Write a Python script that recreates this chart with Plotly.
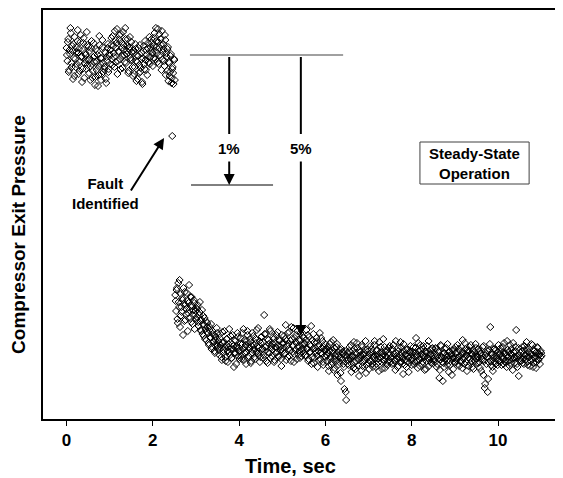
import plotly.graph_objects as go

# ---------------- data ----------------
# sampling of the pressure trace (two interleaved sample sets, 0.01 s apart)
sample_step = 0.02          # s
pre_fault_start = 0.0       # s
post_fault_start = 2.52     # s
interleave_offset = 0.01    # s

# compressor exit pressure (arbitrary units) before the fault, t = 0 .. 2.5 s
pre_fault_p = [
    371, 358, 380, 349, 365, 386, 352, 368, 375, 343, 360, 372, 355, 389, 366, 348, 377, 362, 337, 369, 381, 356, 364, 350, 374, 359,
    346, 368, 353, 378, 341, 362, 357, 334, 370, 349, 364, 344, 383, 355, 339, 361, 372, 347, 352, 366, 336, 358, 375, 350, 363,
    369, 381, 354, 373, 362, 388, 357, 376, 345, 367, 379, 360, 385, 371, 351, 374, 364, 391, 356, 368, 380, 348, 372, 361, 377,
    359, 343, 366, 352, 370, 338, 357, 363, 346, 374, 351, 360, 335, 368, 355, 378, 349, 364, 371, 357, 382, 362, 369, 376, 353,
    373, 386, 360, 378, 366, 390, 355, 371, 380, 349, 367, 375, 358, 384, 344, 362, 370, 338, 356, 347, 365, 341, 352, 335, 359,
]
pre_fault_p_b = [
    364, 377, 347, 369, 391, 356, 373, 340, 361, 382, 352, 367, 378, 345, 370, 357, 384, 363, 350, 376, 341, 366, 359, 387, 354, 372,
    360, 339, 371, 355, 348, 376, 363, 342, 357, 368, 333, 352, 374, 361, 345, 379, 356, 350, 367, 340, 362, 371, 347, 365, 355,
    374, 360, 383, 366, 352, 379, 371, 390, 358, 368, 384, 350, 376, 363, 387, 369, 357, 380, 365, 373, 346, 370, 382, 359, 367,
    352, 368, 345, 375, 358, 364, 340, 371, 354, 347, 366, 337, 361, 373, 350, 359, 369, 344, 376, 362, 355, 372, 380, 366, 361,
    381, 368, 391, 372, 357, 377, 385, 364, 374, 388, 360, 370, 353, 379, 366, 348, 372, 357, 343, 363, 336, 350, 346, 360, 339,
]

# the single sample at which the fault is identified
fault_t = [2.45]
fault_p = [283]

# compressor exit pressure after the fault, t = 2.52 .. 11.0 s
post_fault_p = [
    124, 108, 131, 96, 117, 139, 103, 112, 121, 84, 115, 127, 99, 110, 118, 106, 134, 101, 113, 122, 95, 109, 116, 104, 111,
    102, 114, 93, 107, 98, 88, 109, 95, 83, 101, 90, 79, 96, 86, 74, 92, 81, 70, 88, 77, 84, 66, 79, 91, 73,
    78, 64, 85, 71, 59, 76, 69, 88, 62, 74, 80, 57, 72, 67, 83, 61, 75, 70, 52, 79, 66, 73, 86, 63, 71,
    68, 81, 60, 75, 90, 66, 72, 55, 78, 84, 63, 70, 77, 58, 86, 69, 74, 62, 80, 67, 73, 91, 64, 57, 76,
    82, 70, 61, 104, 68, 85, 73, 56, 79, 66, 88, 71, 63, 75, 80, 59, 72, 84, 67, 74, 62, 78, 69, 53, 76,
    71, 83, 66, 94, 78, 62, 75, 87, 69, 58, 80, 73, 91, 65, 77, 84, 60, 72, 79, 68, 86, 63, 74, 70, 81,
    76, 64, 89, 70, 58, 82, 67, 73, 55, 79, 85, 61, 71, 66, 77, 52, 68, 74, 60, 81, 65, 57, 72, 63, 69,
    70, 58, 66, 48, 75, 62, 54, 68, 79, 60, 51, 65, 72, 44, 63, 57, 69, 38, 61, 67, 55, 30, 64, 19, 59,
    66, 54, 72, 60, 47, 68, 63, 77, 57, 50, 65, 71, 59, 43, 67, 62, 74, 53, 64, 58, 69, 46, 61, 70, 56,
    65, 73, 58, 67, 52, 61, 78, 64, 55, 69, 60, 48, 66, 72, 57, 63, 80, 59, 51, 68, 62, 54, 71, 64, 57,
    69, 55, 63, 74, 58, 49, 66, 60, 71, 53, 64, 77, 57, 62, 45, 68, 59, 65, 52, 70, 61, 56, 67, 63, 54,
    60, 72, 57, 66, 81, 63, 51, 68, 59, 74, 62, 55, 70, 64, 49, 67, 58, 73, 61, 53, 69, 65, 56, 71, 60,
    64, 57, 70, 52, 63, 67, 41, 59, 73, 62, 38, 56, 66, 60, 71, 54, 63, 47, 68, 58, 65, 61, 50, 69, 57,
    66, 59, 74, 62, 53, 68, 57, 64, 79, 60, 55, 70, 63, 48, 67, 61, 72, 56, 65, 52, 69, 62, 58, 75, 60,
    63, 56, 68, 51, 65, 60, 72, 44, 58, 35, 66, 62, 27, 57, 69, 92, 54, 64, 48, 61, 70, 55, 63, 59, 67,
    58, 65, 71, 54, 63, 60, 76, 57, 66, 52, 69, 62, 59, 74, 56, 64, 49, 67, 61, 72, 89, 55, 63, 43, 60,
    66, 58, 72, 61, 55, 69, 64, 77, 57, 62, 70, 53, 65, 60, 74, 56, 68, 63, 51, 67, 71, 59, 64, 62, 66,
]
post_fault_p_b = [
    118, 129, 100, 136, 112, 92, 125, 107, 119, 131, 98, 114, 105, 126, 88, 116, 109, 122, 97, 113, 104, 119, 90, 108, 100,
    110, 97, 104, 117, 89, 99, 85, 103, 94, 80, 98, 87, 92, 76, 89, 82, 95, 72, 85, 78, 68, 82, 75, 86, 71,
    69, 81, 74, 62, 87, 66, 77, 72, 58, 80, 68, 75, 90, 64, 70, 61, 84, 73, 66, 78, 55, 71, 82, 68, 60,
    75, 63, 86, 70, 59, 79, 74, 67, 88, 61, 72, 80, 56, 73, 66, 83, 70, 60, 76, 89, 65, 71, 78, 62, 82,
    70, 77, 64, 85, 72, 58, 80, 67, 75, 90, 61, 73, 69, 82, 57, 76, 66, 71, 87, 63, 79, 72, 60, 84, 68,
    76, 65, 80, 59, 73, 86, 70, 63, 78, 92, 67, 74, 57, 81, 69, 76, 88, 64, 72, 61, 79, 70, 83, 66, 75,
    63, 79, 71, 84, 60, 74, 67, 93, 62, 70, 56, 77, 68, 81, 63, 73, 59, 86, 66, 71, 78, 54, 69, 75, 62,
    64, 72, 53, 68, 60, 77, 57, 66, 49, 71, 63, 58, 75, 54, 67, 61, 46, 70, 59, 65, 52, 68, 27, 62, 55,
    59, 68, 62, 74, 55, 63, 51, 70, 66, 58, 76, 61, 53, 69, 64, 49, 72, 57, 65, 60, 78, 54, 67, 63, 50,
    58, 66, 70, 55, 63, 74, 60, 52, 68, 64, 57, 77, 61, 67, 50, 65, 59, 72, 63, 55, 69, 58, 66, 73, 61,
    62, 70, 56, 65, 59, 78, 63, 52, 68, 61, 57, 72, 66, 60, 75, 54, 64, 69, 58, 63, 47, 67, 73, 59, 65,
    67, 55, 63, 71, 58, 64, 76, 60, 53, 69, 65, 57, 73, 62, 68, 50, 66, 61, 78, 59, 64, 56, 70, 63, 58,
    59, 71, 64, 55, 68, 61, 49, 74, 62, 57, 66, 52, 70, 63, 58, 75, 60, 67, 54, 64, 44, 69, 61, 56, 72,
    61, 67, 55, 70, 63, 58, 72, 51, 66, 62, 76, 57, 64, 69, 53, 68, 60, 74, 58, 65, 50, 67, 63, 71, 56,
    62, 70, 57, 66, 48, 63, 59, 73, 31, 64, 55, 68, 40, 61, 75, 58, 66, 52, 70, 63, 57, 69, 61, 54, 74,
    64, 57, 68, 61, 72, 55, 66, 59, 63, 78, 58, 67, 53, 65, 70, 60, 76, 62, 56, 68, 61, 52, 71, 64, 58,
    61, 68, 56, 65, 73, 59, 63, 70, 54, 67, 62, 58, 75, 64, 52, 69, 61, 66, 57, 72, 60, 65, 55, 68, 63,
]

x_ticks = [0, 2, 4, 6, 8, 10]
x_title = "Time, sec"
y_title = "Compressor Exit Pressure"


# ---------------- figure ----------------
def times(start, n):
    return [round(start + i * sample_step, 4) for i in range(n)]


series = [
    (times(pre_fault_start, len(pre_fault_p)), pre_fault_p),
    (times(pre_fault_start + interleave_offset, len(pre_fault_p_b)), pre_fault_p_b),
    (fault_t, fault_p),
    (times(post_fault_start, len(post_fault_p)), post_fault_p),
    (times(post_fault_start + interleave_offset, len(post_fault_p_b)), post_fault_p_b),
]

FONT = "Liberation Sans, Arial, Helvetica, sans-serif"
marker = dict(symbol="diamond-open", size=5.5, color="black", line=dict(width=1, color="black"))

fig = go.Figure()
for t, p in series:
    fig.add_trace(go.Scatter(x=t, y=p, mode="markers", marker=marker,
                             showlegend=False, hoverinfo="x+y"))

# reference levels and drop arrows
fig.add_shape(type="line", x0=2.86, x1=6.41, y0=364, y1=364, line=dict(color="#808080", width=1.5))
fig.add_shape(type="line", x0=2.885, x1=4.786, y0=234, y1=234, line=dict(color="black", width=1))
for xv in (3.77, 5.43):
    fig.add_shape(type="line", x0=xv, x1=xv, y0=362, y1=285, line=dict(color="black", width=2))
arrow = dict(showarrow=True, arrowhead=2, arrowsize=1.1, arrowwidth=2, arrowcolor="black",
             text="", xref="x", yref="y", axref="x", ayref="y")
fig.add_annotation(x=3.77, y=234, ax=3.77, ay=259, **arrow)
fig.add_annotation(x=5.43, y=83, ax=5.43, ay=259, **arrow)
fig.add_annotation(x=2.26, y=281, ax=1.47, ay=227, **arrow)

txt = dict(showarrow=False, font=dict(family=FONT, size=15, color="black", weight="bold"))
fig.add_annotation(x=3.77, y=271, text="1%", **txt)
fig.add_annotation(x=5.43, y=271, text="5%", **txt)
fig.add_annotation(x=0.895, y=226, text="Fault<br>Identified", **txt)

fig.add_shape(type="rect", x0=8.19, x1=10.72, y0=235, y1=277,
              line=dict(color="#404040", width=1), fillcolor="white")
fig.add_annotation(x=9.455, y=256, text="Steady-State<br>Operation", **txt)

# axis titles (placed like the original, slightly off-centre)
fig.add_annotation(text=x_title, xref="paper", yref="paper", x=0.5, y=0, xshift=-13, yshift=-47,
                   xanchor="center", yanchor="middle", showarrow=False,
                   font=dict(family=FONT, size=20, color="black", weight="bold"))
fig.add_annotation(text=y_title, xref="paper", yref="paper", x=0, y=0.45, xshift=-24,
                   xanchor="center", yanchor="middle", textangle=-90, showarrow=False,
                   font=dict(family=FONT, size=19, color="black", weight="bold"))

# the page body adds an 8 px margin, so the figure is 8 px smaller than the window
fig.update_layout(
    width=555, height=470,
    margin=dict(l=35, r=0, t=2, b=59),
    paper_bgcolor="white", plot_bgcolor="white",
    font=dict(family=FONT, color="black"),
    xaxis=dict(range=[-0.545, 11.505], tickvals=x_ticks, ticks="outside", ticklen=5,
               tickwidth=1, tickcolor="black", showline=True, linewidth=2, linecolor="black",
               mirror=True, showgrid=False, zeroline=False,
               tickfont=dict(family=FONT, size=17, weight="bold")),
    yaxis=dict(range=[0, 409], showticklabels=False, ticks="", showline=True, linewidth=2,
               linecolor="black", showgrid=False, zeroline=False),
)

fig.write_html("out.html")
